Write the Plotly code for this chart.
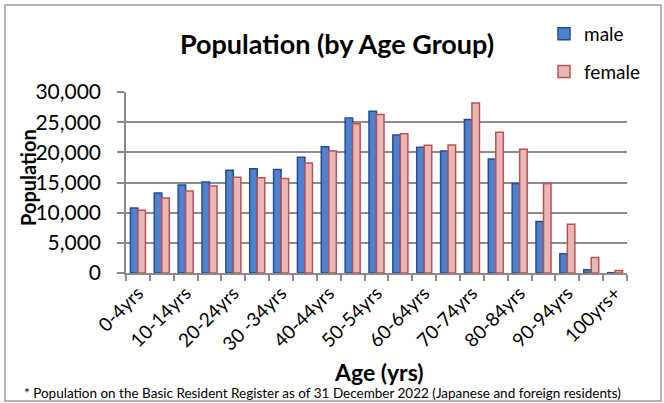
import plotly.graph_objects as go

categories = ["0-4yrs", "5-9yrs", "10-14yrs", "15-19yrs", "20-24yrs", "25-29yrs",
              "30 -34yrs", "35-39yrs", "40-44yrs", "45-49yrs", "50-54yrs", "55-59yrs",
              "60-64yrs", "65-69yrs", "70-74yrs", "75-79yrs", "80-84yrs", "85-89yrs",
              "90-94yrs", "95-99yrs", "100yrs+"]
male = [10770, 13270, 14600, 15100, 17050, 17270, 17170, 19170, 20930, 25670, 26830,
        22880, 20830, 20220, 25430, 18880, 14830, 8550, 3170, 550, 50]
female = [10380, 12430, 13600, 14430, 15880, 15770, 15670, 18220, 20220, 24720, 26270,
          23100, 21170, 21220, 28170, 23330, 20500, 14830, 8100, 2550, 430]
tick_text = [c if i % 2 == 0 else "" for i, c in enumerate(categories)]
y_ticks = [0, 5000, 10000, 15000, 20000, 25000, 30000]

FONT = "Lato, Open Sans, sans-serif"
W, H = 664, 403
L, R, T, B = 126, 37, 92, 130
pw, ph = W - L - R, H - T - B

def px(x):
    return (x - L) / pw

def py(y):
    return (H - B - y) / ph

fig = go.Figure()
fig.add_trace(go.Bar(x=categories, y=male, name="male",
                     marker=dict(color="#4F81CF", line=dict(color="#24508F", width=1.5)),
                     legendgroup="m"))
fig.add_trace(go.Bar(x=categories, y=female, name="female",
                     marker=dict(color="#E6B9B8", line=dict(color="#C0504D", width=1.5)),
                     legendgroup="f"))

fig.update_layout(
    width=W, height=H,
    margin=dict(l=L, r=R, t=T, b=B, autoexpand=False),
    paper_bgcolor="white", plot_bgcolor="white",
    barmode="group", bargap=0.37, bargroupgap=0.0,
    font=dict(family=FONT, color="black"),
    showlegend=True,
    legend=dict(x=px(544), y=py(15), xanchor="left", yanchor="top",
                font=dict(size=19, family=FONT), tracegroupgap=10,
                bgcolor="rgba(0,0,0,0)", itemwidth=30),
    title=dict(text="<b>Population (by Age Group)</b>", x=337 / W, xanchor="center",
               y=1 - 45 / H, yanchor="middle", font=dict(size=27, family=FONT)),
)

fig.update_xaxes(
    type="category", tickmode="array", tickvals=categories, ticktext=tick_text,
    tickangle=-45, tickfont=dict(size=19, family=FONT), automargin=False,
    tickson="boundaries", ticks="outside", ticklen=6, tickcolor="#8a8a8a", tickwidth=1.5,
    showline=True, linecolor="#8a8a8a", linewidth=1.5, showgrid=False,
)
fig.update_yaxes(
    range=[0, 30000], tickmode="array", tickvals=y_ticks, automargin=False,
    ticktext=[f"{v:,}" for v in y_ticks], tickfont=dict(size=21, family=FONT),
    ticks="outside", ticklen=7, tickcolor="#8a8a8a", tickwidth=1.5, ticklabelstandoff=12,
    showline=True, linecolor="#8a8a8a", linewidth=1.5,
    showgrid=True, gridcolor="#8c8c8c", gridwidth=1.5, zeroline=False,
)

fig.add_annotation(text="<b>Population</b>", textangle=-90, x=px(28), y=py(178),
                   xref="paper", yref="paper", showarrow=False,
                   xanchor="center", yanchor="middle",
                   font=dict(size=20, family=FONT))
fig.add_annotation(text="<b>Age (yrs)</b>", x=px(379), y=py(372),
                   xref="paper", yref="paper", showarrow=False,
                   xanchor="center", yanchor="middle",
                   font=dict(size=23, family=FONT))
fig.add_annotation(text="* Population on the Basic Resident Register as of 31 December 2022 (Japanese and foreign residents)",
                   x=px(322), y=py(393), xref="paper", yref="paper", showarrow=False,
                   xanchor="center", yanchor="middle",
                   font=dict(size=13.5, family=FONT))

fig.add_shape(type="rect", xref="paper", yref="paper",
              x0=px(5), x1=px(661), y0=py(401), y1=py(5),
              line=dict(color="#9a9a9a", width=1.5), fillcolor="rgba(0,0,0,0)", layer="below")

fig.write_html("out.html", config={"displayModeBar": False},
               post_script="document.body.style.margin='0px';document.body.style.overflow='hidden';")
